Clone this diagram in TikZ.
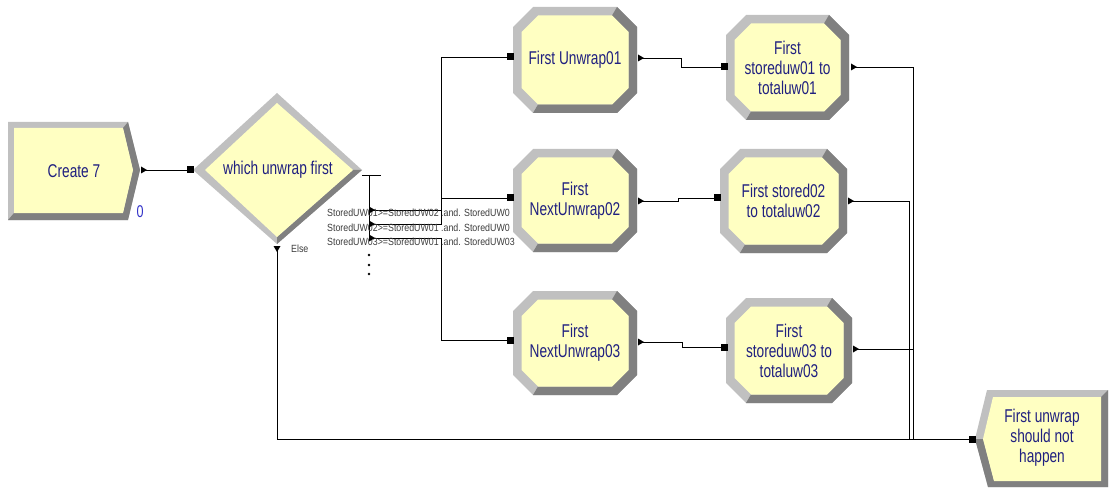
\documentclass[tikz,border=0pt]{standalone}
\usepackage{fontspec}
\setmainfont{Liberation Sans}[FakeStretch=0.74]
\newfontfamily\condfont{Liberation Sans}[FakeStretch=0.85]
\usetikzlibrary{calc}

\definecolor{modfill}{RGB}{255,255,194}
\definecolor{bevlight}{RGB}{192,192,192}
\definecolor{bevdark}{RGB}{128,128,128}
\definecolor{modtext}{RGB}{32,32,128}
\definecolor{cntblue}{RGB}{50,50,200}
\definecolor{condgray}{RGB}{60,60,60}

\tikzset{
  modlabel/.style={text=modtext, font=\fontsize{18.5}{20}\selectfont, align=center, inner sep=0pt},
  connector/.style={draw=black, line width=0.9pt},
  condlabel/.style={text=condgray, font=\condfont\fontsize{10.4}{11}\selectfont, anchor=west, inner sep=0pt},
  pics/exitmark/.style={code={\fill[black] (0,-3.5) -- (6,0) -- (0,3.5) -- cycle;}},
  pics/exitdown/.style={code={\fill[black] (-3.5,0) -- (0,6) -- (3.5,0) -- cycle;}},
  pics/entrymark/.style={code={\fill[black] (-3.5,-3.5) rectangle (3.5,3.5);}},
}

% beveled octagon module: name, centre x, centre y, width, height, text
\newcommand\processmod[6]{%
  \pgfmathsetmacro\hw{#4/2}\pgfmathsetmacro\hh{#5/2}%
  \pgfmathsetmacro\iw{\hw-8.5}\pgfmathsetmacro\ih{\hh-8.5}%
  \begin{scope}[shift={(#2,#3)}]
    \fill[bevlight] (-\hw+20,-\hh) -- (\hw-20,-\hh) -- (\hw,-\hh+20) -- (\hw,\hh-20)
      -- (\hw-20,\hh) -- (-\hw+20,\hh) -- (-\hw,\hh-20) -- (-\hw,-\hh+20) -- cycle;
    \fill[bevdark] (\hw-20,-\hh) -- (\hw,-\hh+20) -- (\hw,\hh-20) -- (\hw-20,\hh)
      -- (-\hw+20,\hh) -- (-\iw+16.5,\ih) -- (\iw-16.5,\ih) -- (\iw,\ih-16.5)
      -- (\iw,-\ih+16.5) -- (\iw-16.5,-\ih) -- cycle;
    \fill[modfill] (-\iw+16.5,-\ih) -- (\iw-16.5,-\ih) -- (\iw,-\ih+16.5) -- (\iw,\ih-16.5)
      -- (\iw-16.5,\ih) -- (-\iw+16.5,\ih) -- (-\iw,\ih-16.5) -- (-\iw,-\ih+16.5) -- cycle;
  \end{scope}
  \node[modlabel, minimum width=#4pt, minimum height=#5pt] (#1) at (#2,#3) {#6};
}

\begin{document}
\begin{tikzpicture}[x=1pt,y=-1pt]
\useasboundingbox (0,0) rectangle (1113,489);

% ---- port coordinates ----
\coordinate (createout) at (141,170);
\coordinate (decidein) at (190,170);
\coordinate (dx1) at (369,210);
\coordinate (dx2) at (369,224);
\coordinate (dx3) at (369,238);
\coordinate (delse) at (277,246);
\coordinate (ain) at (510,57);   \coordinate (aout) at (638,58);
\coordinate (bin) at (724,67);   \coordinate (bout) at (851,67);
\coordinate (cin) at (510,198);  \coordinate (cout) at (638,201);
\coordinate (din) at (717,198);  \coordinate (dout) at (848,201);
\coordinate (ein) at (510,340);  \coordinate (eout) at (638,342);
\coordinate (fin) at (724,347);  \coordinate (fout) at (853,349);
\coordinate (gin) at (972,439);
\coordinate (merge) at (913,439);
\coordinate (merge2) at (909,439);

% ---- connectors ----
\draw[connector] (createout) -- (decidein);
\draw[connector] (362,175) -- (381,175);
\draw[connector] (369,175) -- (dx3);
\draw[connector] (dx1) -- (441,210) |- (ain);
\draw[connector] (dx2) -- (441,224) |- (cin);
\draw[connector] (dx3) -- (441,238) |- (ein);
\draw[connector] (aout) -- ++(43,0) |- (bin);
\draw[connector] (cout) -- ++(40,0) |- (din);
\draw[connector] (eout) -- ++(44,0) |- (fin);
\draw[connector] (bout) -| (merge) -- (gin);
\draw[connector] (fout) -- (fout -| merge);
\draw[connector] (dout) -| (merge2) -- (merge);
\draw[connector] (delse) |- (gin);

% ---- condition texts ----
\node[condlabel] (cond1) at (327,213) {StoredUW01>=StoredUW02 .and. StoredUW0};
\node[condlabel] (cond2) at (327,228) {StoredUW02>=StoredUW01 .and. StoredUW0};
\node[condlabel] (cond3) at (327,242) {StoredUW03>=StoredUW01 .and. StoredUW03};
\node[condlabel] (elselbl) at (291,249) {Else};
\foreach \yy in {255,265,274} \fill (369,\yy) circle (1.4);

% ---- Create module ----
\fill[bevlight] (8,122) -- (128,122) -- (140,170) -- (128,220) -- (8,220) -- cycle;
\fill[bevdark] (128,122) -- (140,170) -- (128,220) -- (8,220) -- (14,213) -- (123,213)
  -- (133,170) -- (123,128) -- cycle;
\fill[modfill] (14,128) -- (123,128) -- (133,170) -- (123,213) -- (14,213) -- cycle;
\node[modlabel, minimum width=132pt, minimum height=98pt] (create) at (74,171) {Create 7};
\node[text=cntblue, font=\fontsize{17}{17}\selectfont, inner sep=0pt] (count) at (140,212) {0};

% ---- Decide module ----
\fill[bevlight] (193,170) -- (277,93) -- (362,170) -- (277,244) -- cycle;
\fill[bevdark] (362,170) -- (277,244) -- (277,237) -- (353,170) -- cycle;
\fill[modfill] (205,170) -- (277,103) -- (353,170) -- (277,237) -- cycle;
\node[modlabel, minimum width=150pt, minimum height=30pt] (decide) at (278,170) {which unwrap first};

% ---- Process / Assign modules ----
\processmod{unwrapA}{575}{60}{124}{106}{First Unwrap01}
\processmod{storeA}{787.5}{67.5}{123}{105}{First\\storeduw01 to\\totaluw01}
\processmod{unwrapB}{575}{200.5}{124}{103}{First\\NextUnwrap02}
\processmod{storeB}{783.5}{201}{127}{104}{First stored02\\to totaluw02}
\processmod{unwrapC}{575}{343}{124}{104}{First\\NextUnwrap03}
\processmod{storeC}{789}{350.5}{126}{105}{First\\storeduw03 to\\totaluw03}

% ---- Dispose module ----
\fill[bevlight] (987,390) -- (1108,390) -- (1108,487) -- (988,487) -- (975,439) -- cycle;
\fill[bevdark] (1108,390) -- (1108,487) -- (988,487) -- (975,439) -- (983,439) -- (994,481)
  -- (1101,481) -- (1101,397) -- cycle;
\fill[modfill] (993,397) -- (1101,397) -- (1101,481) -- (994,481) -- (983,439) -- cycle;
\node[modlabel, minimum width=120pt, minimum height=90pt] (dispose) at (1042,438) {First unwrap\\should not\\happen};

% ---- port marks ----
\pic at (createout) {exitmark};
\pic at (decidein) {entrymark};
\pic at (dx1) {exitmark};
\pic at (dx2) {exitmark};
\pic at (dx3) {exitmark};
\pic at (delse) {exitdown};
\foreach \p in {ain,bin,cin,din,ein,fin,gin} \pic at (\p) {entrymark};
\foreach \p in {aout,bout,cout,dout,eout,fout} \pic at (\p) {exitmark};
\end{tikzpicture}
\end{document}
